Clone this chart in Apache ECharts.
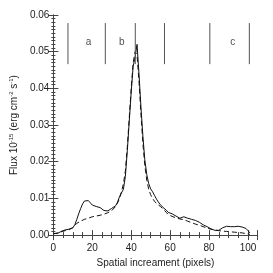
<!DOCTYPE html>
<html><head><meta charset="utf-8">
<script src="https://cdn.jsdelivr.net/npm/echarts@6/dist/echarts.min.js"></script>
<style>html,body{margin:0;padding:0;background:#fff}#c{width:273px;height:273px}</style>
</head><body><div id="c"></div>
<script>
const pixels = [];
for (let i = 0; i <= 101; i++) pixels.push(i);
const fluxSolid = [0.0005,0.0006,0.0004,0.0008,0.0010,0.0011,0.0014,0.0015,0.0016,0.0017,
0.0020,0.0028,0.0042,0.0058,0.0072,0.0085,0.0093,0.0095,0.0094,0.0088,
0.0082,0.0079,0.0078,0.0077,0.0075,0.0072,0.0067,0.0064,0.0066,0.0070,
0.0073,0.0076,0.0080,0.0090,0.0105,0.0115,0.0125,0.0160,0.0230,0.0310,
0.0390,0.0460,0.0485,0.0520,0.0440,0.0350,0.0270,0.0205,0.0165,0.0140,
0.0126,0.0118,0.0108,0.0098,0.0090,0.0083,0.0077,0.0072,0.0068,0.0062,
0.0060,0.0058,0.0055,0.0052,0.0050,0.0046,0.0045,0.0050,0.0052,0.0046,
0.0042,0.0043,0.0041,0.0040,0.0038,0.0035,0.0031,0.0028,0.0025,0.0023,
0.0020,0.0017,0.0015,0.0013,0.0012,0.0013,0.0014,0.0020,0.0025,0.0024,
0.0022,0.0023,0.0022,0.0023,0.0020,0.0024,0.0025,0.0022,0.0023,0.0018,
0.0012,0.0006];
const fluxDashed = [0.0003,0.0004,0.0006,0.0007,0.0009,0.0010,0.0012,0.0014,0.0015,0.0017,
0.0020,0.0026,0.0032,0.0036,0.0038,0.0041,0.0043,0.0045,0.0046,0.0048,
0.0050,0.0051,0.0052,0.0053,0.0054,0.0055,0.0057,0.0059,0.0061,0.0064,
0.0067,0.0072,0.0078,0.0088,0.0100,0.0118,0.0140,0.0175,0.0240,0.0320,
0.0400,0.0470,0.0500,0.0490,0.0420,0.0330,0.0250,0.0190,0.0150,0.0125,
0.0110,0.0100,0.0092,0.0086,0.0082,0.0078,0.0075,0.0068,0.0062,0.0056,
0.0053,0.0051,0.0049,0.0047,0.0045,0.0044,0.0043,0.0042,0.0040,0.0038,
0.0036,0.0034,0.0032,0.0030,0.0029,0.0027,0.0025,0.0023,0.0021,0.0019,
0.0017,0.0016,0.0015,0.0014,0.0013,0.0012,0.0012,0.0011,0.0011,0.0010,
0.0010,0.0009,0.0009,0.0008,0.0008,0.0007,0.0007,0.0006,0.0005,0.0004,
0.0003,0.0002];
const dividerX = [7.5, 26.7, 42.1, 57.1, 80.4, 100.7];
const dividerY = [0.0466, 0.0578];
const regionNames = ['a', 'b', 'c'];
const regionX = [18.1, 35.2, 92.2];
const regionY = 0.0527;
const xTicks = [0, 20, 40, 60, 80, 100];
const yTicks = [0.00, 0.01, 0.02, 0.03, 0.04, 0.05, 0.06];

const dividerData = [];
dividerX.forEach(x => { dividerData.push([x, dividerY[0]], [x, dividerY[1]], null); });

const font = 'Liberation Sans, Arial, sans-serif';
const axCol = '#444';
const chart = echarts.init(document.getElementById('c'), null, {renderer: 'canvas'});
const common = {
  axisLine: {show: true, lineStyle: {color: axCol, width: 1}},
  splitLine: {show: false},
};
chart.setOption({
  animation: false,
  backgroundColor: '#fff',
  grid: {left: 49.5, top: 15, right: 15.3, bottom: 34.5},
  xAxis: [
    Object.assign({type: 'value', position: 'bottom', min: 0, max: 105, interval: 20,
      axisTick: {show: true, inside: true, length: 5, lineStyle: {color: axCol}},
      minorTick: {show: true, splitNumber: 4, length: 3, lineStyle: {color: axCol}},
      axisLabel: {color: '#222', fontSize: 10, fontFamily: font, margin: 8,
        formatter: v => xTicks.includes(v) ? String(v) : ''},
      name: 'Spatial increament (pixels)', nameLocation: 'middle', nameGap: 19,
      nameTextStyle: {color: '#222', fontSize: 10, fontFamily: font}}, common),
    Object.assign({type: 'value', position: 'top', min: 0, max: 105, interval: 20,
      axisTick: {show: true, inside: true, length: 5, lineStyle: {color: axCol}},
      minorTick: {show: true, splitNumber: 4, length: 3, lineStyle: {color: axCol}},
      axisLabel: {show: false}}, common)
  ],
  yAxis: [
    Object.assign({type: 'value', position: 'left', min: 0, max: 0.06, interval: 0.01,
      axisTick: {show: true, inside: true, length: 5, lineStyle: {color: axCol}},
      minorTick: {show: true, splitNumber: 10, length: 2, lineStyle: {color: axCol}},
      axisLabel: {color: '#222', fontSize: 10, fontFamily: font, margin: 4,
        formatter: v => v.toFixed(2)},
      name: 'Flux 10{s|-15} (erg cm{s|-2} s{s|-1})', nameLocation: 'middle', nameGap: 33,
      nameTextStyle: {color: '#222', fontSize: 10, fontFamily: font,
        rich: {s: {fontSize: 6, verticalAlign: 'top', fontFamily: font, color: '#222', padding: [0,0,6,0]}}}}, common),
    Object.assign({type: 'value', position: 'right', min: 0, max: 0.06, interval: 0.01,
      axisTick: {show: true, inside: true, length: 5, lineStyle: {color: axCol}},
      minorTick: {show: true, splitNumber: 10, length: 2, lineStyle: {color: axCol}},
      axisLabel: {show: false}}, common)
  ],
  series: [
    {type: 'line', data: pixels.map((x, i) => [x, fluxDashed[i]]), symbol: 'none',
      lineStyle: {color: '#111', width: 1, type: [5, 3]}},
    {type: 'line', data: pixels.map((x, i) => [x, fluxSolid[i]]), symbol: 'none',
      lineStyle: {color: '#111', width: 1}},
    {type: 'line', data: dividerData, symbol: 'none', connectNulls: false,
      lineStyle: {color: '#555', width: 1}},
    {type: 'scatter', data: regionX.map((x, i) => [x, regionY, regionNames[i]]), symbolSize: 0,
      label: {show: true, position: 'inside', formatter: p => p.data[2], color: '#222',
        fontSize: 10, fontFamily: font}}
  ]
});
</script></body></html>
